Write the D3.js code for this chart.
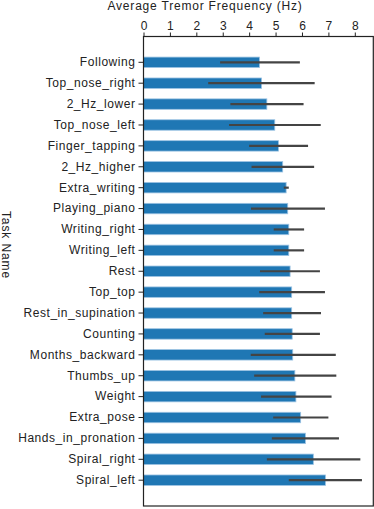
<!DOCTYPE html>
<html><head><meta charset="utf-8">
<script src="https://cdn.jsdelivr.net/npm/d3@7"></script>
<style>
html,body{margin:0;padding:0;background:#fff;}
svg text{font-family:"Liberation Sans",Arial,sans-serif;fill:#222;}
</style></head>
<body>
<svg id="chart" width="374" height="509"></svg>
<script>
const tasks = ["Following","Top_nose_right","2_Hz_lower","Top_nose_left","Finger_tapping","2_Hz_higher","Extra_writing","Playing_piano","Writing_right","Writing_left","Rest","Top_top","Rest_in_supination","Counting","Months_backward","Thumbs_up","Weight","Extra_pose","Hands_in_pronation","Spiral_right","Spiral_left"];
const meanFreq = [4.39,4.47,4.67,4.97,5.11,5.27,5.40,5.46,5.50,5.50,5.55,5.61,5.61,5.63,5.65,5.73,5.77,5.95,6.13,6.43,6.89];
const errLow  = [2.90,2.45,3.29,3.24,4.00,4.09,5.31,4.07,4.93,4.93,4.41,4.38,4.53,4.59,4.06,4.19,4.45,4.91,4.86,4.67,5.50];
const errHigh = [5.92,6.48,6.06,6.71,6.23,6.46,5.50,6.87,6.08,6.08,6.68,6.87,6.72,6.68,7.28,7.30,7.12,7.00,7.40,8.21,8.27];
const xTicks = [0,1,2,3,4,5,6,7,8];
const xTitle = "Average Tremor Frequency (Hz)";
const yTitle = "Task Name";

const data = tasks.map((t,i)=>({task:t, mean:meanFreq[i], lo:errLow[i], hi:errHigh[i]}));

const mLeft = 143.5, mRight = 373.3, mTop = 36.5, mBottom = 506;
const svg = d3.select("#chart");

const x = d3.scaleLinear().domain([0, 8.7]).range([mLeft, mRight]);
const y = d3.scaleBand().domain(tasks).range([mTop, mBottom]).paddingInner(0.5).paddingOuter(0.985);

const g = svg.append("g");

g.selectAll("rect.bar").data(data).join("rect")
  .attr("class","bar")
  .attr("x", x(0))
  .attr("y", d=>y(d.task))
  .attr("width", d=>x(d.mean)-x(0))
  .attr("height", y.bandwidth())
  .attr("fill","#1f77b4")
  .attr("stroke","#9cc3e3")
  .attr("stroke-width",0.8);

g.selectAll("line.err").data(data).join("line")
  .attr("class","err")
  .attr("x1", d=>x(d.lo)).attr("x2", d=>x(d.hi))
  .attr("y1", d=>y(d.task)+y.bandwidth()/2)
  .attr("y2", d=>y(d.task)+y.bandwidth()/2)
  .attr("stroke","#444").attr("stroke-width",2.2);

// frame
svg.append("rect").attr("x",mLeft).attr("y",mTop).attr("width",mRight-mLeft).attr("height",mBottom-mTop)
  .attr("fill","none").attr("stroke","#222").attr("stroke-width",1.2);

// top axis
const xAxis = d3.axisTop(x).tickValues(xTicks).tickSize(4).tickPadding(3).tickFormat(d3.format("d"));
const xa = svg.append("g").attr("transform",`translate(0,${mTop})`).call(xAxis);
xa.select(".domain").remove();
xa.selectAll(".tick line").attr("stroke","#222");
xa.selectAll(".tick text").attr("font-size",12).attr("fill","#222").style("font-family","Liberation Sans, Arial, sans-serif");

// left axis
const yAxis = d3.axisLeft(y).tickSize(5).tickPadding(3);
const ya = svg.append("g").attr("transform",`translate(${mLeft},0)`).call(yAxis);
ya.select(".domain").remove();
ya.selectAll(".tick line").attr("stroke","#222");
ya.selectAll(".tick text").attr("font-size",12).attr("fill","#222").attr("letter-spacing",0.55).style("font-family","Liberation Sans, Arial, sans-serif");

svg.append("text").attr("x",205).attr("y",10).attr("text-anchor","middle")
  .attr("font-size",12).attr("letter-spacing",0.8).text(xTitle);

svg.append("text").attr("transform","translate(2,245) rotate(90)").attr("text-anchor","middle")
  .attr("font-size",12).attr("letter-spacing",0.9).text(yTitle);
</script>
</body></html>
